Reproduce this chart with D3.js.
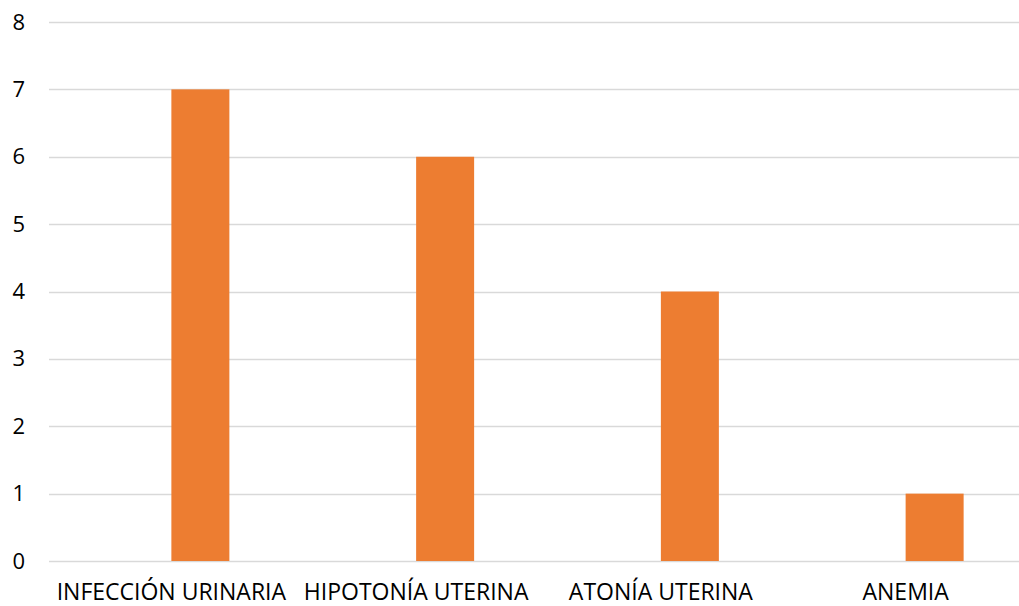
<!DOCTYPE html>
<html>
<head>
<meta charset="utf-8">
<script src="https://cdn.jsdelivr.net/npm/d3@7"></script>
<style>
  html, body { margin: 0; padding: 0; background: #fff; }
  svg { display: block; }
  text { font-family: "Open Sans", sans-serif; fill: #000; }
</style>
</head>
<body>
<script>
// Complications and number of cases
const categories = ["INFECCIÓN URINARIA", "HIPOTONÍA UTERINA", "ATONÍA UTERINA", "ANEMIA"];
const caseValues = [7, 6, 4, 1];
const yTicks = [0, 1, 2, 3, 4, 5, 6, 7, 8];

const width = 1019, height = 606;
const margin = { top: 22, right: -9, bottom: 45, left: 49 };

const svg = d3.select("body").append("svg")
  .attr("width", width).attr("height", height);

const x = d3.scaleBand()
  .domain(categories)
  .range([margin.left, width - margin.right])
  .paddingInner(0).paddingOuter(0);

const y = d3.scaleLinear()
  .domain([0, 8])
  .range([height - margin.bottom, margin.top]);

// gridlines
svg.append("g")
  .selectAll("line")
  .data(yTicks)
  .join("line")
  .attr("x1", margin.left)
  .attr("x2", width)
  .attr("y1", d => Math.round(y(d)) + 0.5)
  .attr("y2", d => Math.round(y(d)) + 0.5)
  .attr("stroke", "#D9D9D9")
  .attr("stroke-width", 1.5);

// y axis labels
const yAxis = d3.axisLeft(y).tickValues(yTicks).tickSize(0).tickPadding(0);
const gy = svg.append("g")
  .attr("transform", `translate(${margin.left - 24},0)`)
  .call(yAxis);
gy.select(".domain").remove();
gy.selectAll("text")
  .style("font-size", "22px")
  .style("font-family", "'Open Sans', sans-serif")
  .attr("fill", "#000");

const barWidth = 58;
const data = categories.map((c, i) => ({ cat: c, cases: caseValues[i] }));

// case-count bars sit in the right half of each category slot
svg.append("g")
  .selectAll("rect")
  .data(data)
  .join("rect")
  .attr("x", d => x(d.cat) + x.bandwidth() / 2)
  .attr("y", d => y(d.cases))
  .attr("width", barWidth)
  .attr("height", d => y(0) - y(d.cases))
  .attr("fill", "#ED7D31");

// x axis labels
const xAxis = d3.axisBottom(x).tickSize(0).tickPadding(0);
const gx = svg.append("g")
  .attr("transform", `translate(0,600)`)
  .call(xAxis);
gx.select(".domain").remove();
gx.selectAll("text")
  .attr("dy", 0)
  .attr("y", 0)
  .style("font-size", "23px")
  .style("font-family", "'Open Sans', sans-serif")
  .attr("fill", "#000");
</script>
</body>
</html>
